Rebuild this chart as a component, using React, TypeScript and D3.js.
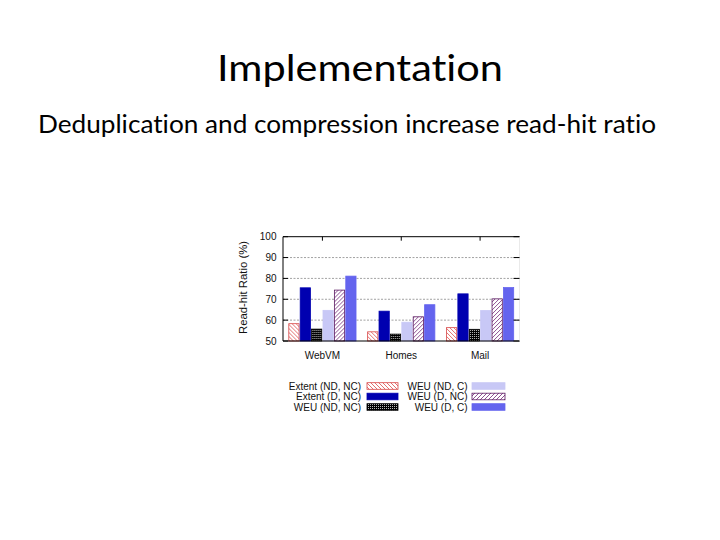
import React, { useRef, useEffect } from 'react'
import * as d3 from 'd3'

const categories = ['WebVM', 'Homes', 'Mail']
const seriesNames = [
  'Extent (ND, NC)',
  'Extent (D, NC)',
  'WEU (ND, NC)',
  'WEU (ND, C)',
  'WEU (D, NC)',
  'WEU (D, C)',
]
// one row per series, one value per category
const seriesValues = [
  [58.3, 54.4, 56.4],
  [75.5, 64.3, 72.6],
  [55.7, 53.3, 55.6],
  [64.7, 59.0, 64.6],
  [74.4, 61.6, 70.2],
  [81.1, 67.4, 75.6],
]
const yTicks = [50, 60, 70, 80, 90, 100]

const fills = [
  'url(#hatchRed)',
  '#0000b0',
  'url(#dotsBlack)',
  '#c8c8f6',
  'url(#hatchPurple)',
  '#6464ee',
]
const strokes = ['#d84848', '#0000b0', '#000000', '#c8c8f6', '#5a1860', '#6464ee']

const AXIS_FONT = "'Liberation Sans', Arial, sans-serif"

export const ReadHitChart: React.FC = () => {
  const ref = useRef<SVGSVGElement>(null)

  useEffect(() => {
    const svg = d3.select(ref.current)
    svg.selectAll('*').remove()

    const left = 283
    const right = 519.5
    const top = 236.7
    const bottom = 341

    // patterns
    const defs = svg.append('defs')
    const hr = defs
      .append('pattern')
      .attr('id', 'hatchRed')
      .attr('patternUnits', 'userSpaceOnUse')
      .attr('width', 4)
      .attr('height', 4)
    hr.append('rect').attr('width', 4).attr('height', 4).attr('fill', '#fff')
    hr.append('path').attr('d', 'M-1,-1 L5,5 M-1,3 L1,5 M3,-1 L5,1').attr('stroke', '#e06060').attr('stroke-width', 0.9)

    const hp = defs
      .append('pattern')
      .attr('id', 'hatchPurple')
      .attr('patternUnits', 'userSpaceOnUse')
      .attr('width', 4)
      .attr('height', 4)
    hp.append('rect').attr('width', 4).attr('height', 4).attr('fill', '#fff')
    hp.append('path').attr('d', 'M-1,5 L5,-1 M-1,1 L1,-1 M3,5 L5,3').attr('stroke', '#7a3080').attr('stroke-width', 0.85)

    const db = defs
      .append('pattern')
      .attr('id', 'dotsBlack')
      .attr('patternUnits', 'userSpaceOnUse')
      .attr('width', 2)
      .attr('height', 2)
    db.append('rect').attr('width', 2).attr('height', 2).attr('fill', '#000')
    db.append('rect').attr('width', 1).attr('height', 1).attr('fill', '#bbb')

    // titles
    svg
      .append('text')
      .attr('x', 360)
      .attr('y', 81)
      .attr('text-anchor', 'middle')
      .attr('textLength', 286)
      .attr('lengthAdjust', 'spacingAndGlyphs')
      .style('font', "36px Lato, 'Open Sans', sans-serif")
      .style('font-variant-ligatures', 'none')
      .attr('fill', '#000')
      .text('Implementation')

    svg
      .append('text')
      .attr('x', 38)
      .attr('y', 133)
      .attr('textLength', 618)
      .attr('lengthAdjust', 'spacingAndGlyphs')
      .style('font', "25.5px Lato, 'Open Sans', sans-serif")
      .style('font-variant-ligatures', 'none')
      .attr('fill', '#000')
      .text('Deduplication and compression increase read-hit ratio')

    const x0 = d3.scaleBand().domain(categories).range([left, right]).paddingInner(0.137).paddingOuter(0.0685)
    const x1 = d3
      .scaleBand()
      .domain(seriesNames)
      .range([0, x0.bandwidth()])
      .paddingInner(0.03)
    const y = d3.scaleLinear().domain([50, 100]).range([bottom, top])

    const chart = svg.append('g')

    // grid
    chart
      .append('g')
      .selectAll('line')
      .data(yTicks.filter(t => t > 50 && t < 100))
      .join('line')
      .attr('x1', left)
      .attr('x2', right)
      .attr('y1', d => y(d))
      .attr('y2', d => y(d))
      .attr('stroke', '#8a8a8a')
      .attr('stroke-width', 0.8)
      .attr('stroke-dasharray', '2,1.5')

    // bars
    const groups = chart
      .append('g')
      .selectAll('g')
      .data(categories)
      .join('g')
      .attr('transform', d => `translate(${x0(d)},0)`)

    groups
      .selectAll('rect')
      .data((c, ci) => seriesNames.map((s, si) => ({ s, si, v: seriesValues[si][ci] })))
      .join('rect')
      .attr('x', (d: any) => (x1(d.s) as number) + 0.4)
      .attr('width', x1.bandwidth() - 0.8)
      .attr('y', (d: any) => y(d.v))
      .attr('height', (d: any) => bottom - y(d.v))
      .attr('fill', (d: any) => fills[d.si])
      .attr('stroke', (d: any) => strokes[d.si])
      .attr('stroke-width', 0.8)

    // frame
    chart
      .append('path')
      .attr('d', `M${right},${top} L${left},${top} L${left},${bottom} L${right},${bottom}`)
      .attr('fill', 'none')
      .attr('stroke', '#000')
      .attr('stroke-width', 1)
    chart
      .append('line')
      .attr('x1', right)
      .attr('x2', right)
      .attr('y1', top)
      .attr('y2', bottom)
      .attr('stroke', '#e4e4e4')
      .attr('stroke-width', 0.8)

    // y ticks + labels
    const yt = chart.append('g').selectAll('g').data(yTicks).join('g')
    yt.append('line')
      .attr('x1', left)
      .attr('x2', left + 5)
      .attr('y1', d => y(d))
      .attr('y2', d => y(d))
      .attr('stroke', '#000')
    yt.append('line')
      .attr('x1', right - 6)
      .attr('x2', right)
      .attr('y1', d => y(d))
      .attr('y2', d => y(d))
      .attr('stroke', '#000')
    yt.append('text')
      .attr('x', left - 6.5)
      .attr('y', d => y(d))
      .attr('dy', '0.36em')
      .attr('text-anchor', 'end')
      .style('font', `10px ${AXIS_FONT}`)
      .attr('fill', '#111')
      .text(d => d)

    // x ticks + labels
    const xt = chart.append('g').selectAll('g').data(categories).join('g')
    xt.append('line')
      .attr('x1', d => (x0(d) as number) + x0.bandwidth() / 2)
      .attr('x2', d => (x0(d) as number) + x0.bandwidth() / 2)
      .attr('y1', top)
      .attr('y2', top + 4)
      .attr('stroke', '#000')
    xt.append('text')
      .attr('x', d => (x0(d) as number) + x0.bandwidth() / 2)
      .attr('y', 359)
      .attr('text-anchor', 'middle')
      .style('font', `10px ${AXIS_FONT}`)
      .attr('fill', '#111')
      .text(d => d)

    // y axis title
    svg
      .append('text')
      .attr('transform', 'translate(247,287.5) rotate(-90)')
      .attr('text-anchor', 'middle')
      .attr('textLength', 93)
      .attr('lengthAdjust', 'spacingAndGlyphs')
      .style('font', `11px ${AXIS_FONT}`)
      .attr('fill', '#111')
      .text('Read-hit Ratio (%)')

    // legend
    const rowsY = [386, 396.5, 407]
    const cols = [
      { textX: 361, swX: 367, swW: 31 },
      { textX: 467.5, swX: 472, swW: 33 },
    ]
    const legend = svg
      .append('g')
      .selectAll('g')
      .data(seriesNames.map((s, i) => ({ s, i, col: cols[Math.floor(i / 3)], row: rowsY[i % 3] })))
      .join('g')
    legend
      .append('text')
      .attr('x', d => d.col.textX)
      .attr('y', d => d.row)
      .attr('dy', '0.36em')
      .attr('text-anchor', 'end')
      .style('font', `10px ${AXIS_FONT}`)
      .attr('fill', '#111')
      .text(d => d.s)
    legend
      .append('rect')
      .attr('x', d => d.col.swX)
      .attr('y', d => d.row - 3.3)
      .attr('width', d => d.col.swW)
      .attr('height', 6.6)
      .attr('fill', d => fills[d.i])
      .attr('stroke', d => strokes[d.i])
      .attr('stroke-width', 0.8)
  }, [])

  return (
    <svg
      ref={ref}
      width={720}
      height={540}
      style={{ position: 'absolute', left: 0, top: 0, background: '#fff' }}
    ></svg>
  )
}

const App: React.FC = () => {
  return (
    <div id="container">
      <ReadHitChart />
    </div>
  )
}

export default App
